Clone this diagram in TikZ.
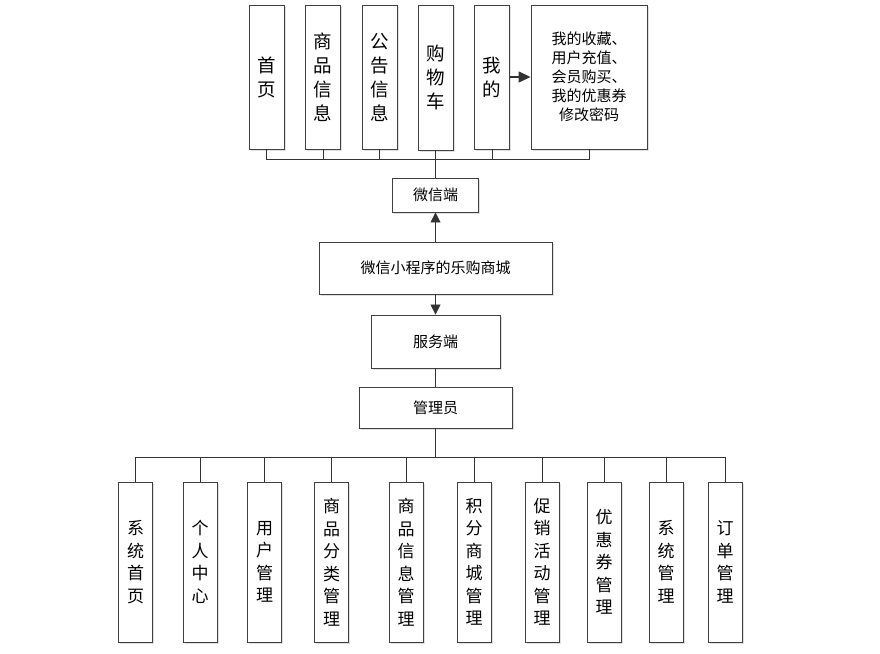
\documentclass[tikz,border=0pt]{standalone}
\usepackage{fontspec}
\setmainfont{Noto Sans CJK SC}
\usetikzlibrary{arrows.meta,shadows}
\begin{document}
\begin{tikzpicture}[x=1pt,y=-1pt,
  box/.style={draw=black!75, line width=0.9pt, fill=white, inner sep=0pt, align=center,
    drop shadow={shadow xshift=1.5pt, shadow yshift=-1.5pt, fill=black!12, opacity=1}},
  topbox/.style={box, minimum width=35, minimum height=144, font=\fontsize{18.5}{24}\selectfont},
  botbox/.style={box, minimum width=34, minimum height=160, font=\fontsize{17}{22.5}\selectfont},
  midbox/.style={box, font=\fontsize{15}{18}\selectfont},
  conn/.style={draw=black!80, line width=0.8pt},
  tip/.style={-{Triangle[length=10pt,width=10pt]}}
]
\useasboundingbox (0,0) rectangle (880,653);
% top row
\node[topbox] (t1) at (266.5,77) {首\\页};
\node[topbox] (t2) at (323,77) {商\\品\\信\\息};
\node[topbox] (t3) at (379.5,77) {公\\告\\信\\息};
\node[topbox, minimum height=145] (t4) at (435.5,77.5) {购\\物\\车};
\node[topbox] (t5) at (492,77) {我\\的};
\node[box, minimum width=116, minimum height=144, font=\fontsize{15}{19}\selectfont] (t6) at (589,77)
  {我的收藏、\\用户充值、\\会员购买、\\我的优惠券\\修改密码};
\draw[conn, line width=1.4pt, -{Triangle[length=12pt,width=11pt]}] (t5.east) -- (t6.west);
% bus top
\coordinate (tb) at (435.5,159);
\draw[conn] (t1.south) |- (t6.south |- tb) -- (t6.south);
\foreach \n in {t2,t3,t5} \draw[conn] (\n.south) -- (\n.south |- tb);
% middle
\node[midbox, minimum width=86, minimum height=34] (w) at (435.5,195) {微信端};
\draw[conn, line width=1.4pt] (t4.south) -- (w.north);
\node[midbox, minimum width=233, minimum height=52] (x) at (435.5,268) {微信小程序的乐购商城};
\draw[conn, tip] (x.north) -- (w.south);
\node[midbox, minimum width=129, minimum height=53] (s) at (435.5,341.5) {服务端};
\draw[conn, tip] (x.south) -- (s.north);
\node[midbox, minimum width=153, minimum height=41] (m) at (435.5,407.5) {管理员};
\draw[conn] (s.south) -- (m.north);
% bottom row
\node[botbox] (b1) at (135.5,562) {系\\统\\首\\页};
\node[botbox] (b2) at (200,562) {个\\人\\中\\心};
\node[botbox] (b3) at (264.5,562) {用\\户\\管\\理};
\node[botbox] (b4) at (331.5,562) {商\\品\\分\\类\\管\\理};
\node[botbox] (b5) at (406,562) {商\\品\\信\\息\\管\\理};
\node[botbox] (b6) at (474,562) {积\\分\\商\\城\\管\\理};
\node[botbox] (b7) at (542,562) {促\\销\\活\\动\\管\\理};
\node[botbox] (b8) at (604,562) {优\\惠\\券\\管\\理};
\node[botbox] (b9) at (666,562) {系\\统\\管\\理};
\node[botbox] (b10) at (725,562) {订\\单\\管\\理};
\coordinate (bb) at (435.5,457);
\draw[conn] (m.south) -- (bb);
\draw[conn] (b1.north) |- (b10.north |- bb) -- (b10.north);
\foreach \n in {b2,b3,b4,b5,b6,b7,b8,b9} \draw[conn] (\n.north) -- (\n.north |- bb);
\end{tikzpicture}
\end{document}
